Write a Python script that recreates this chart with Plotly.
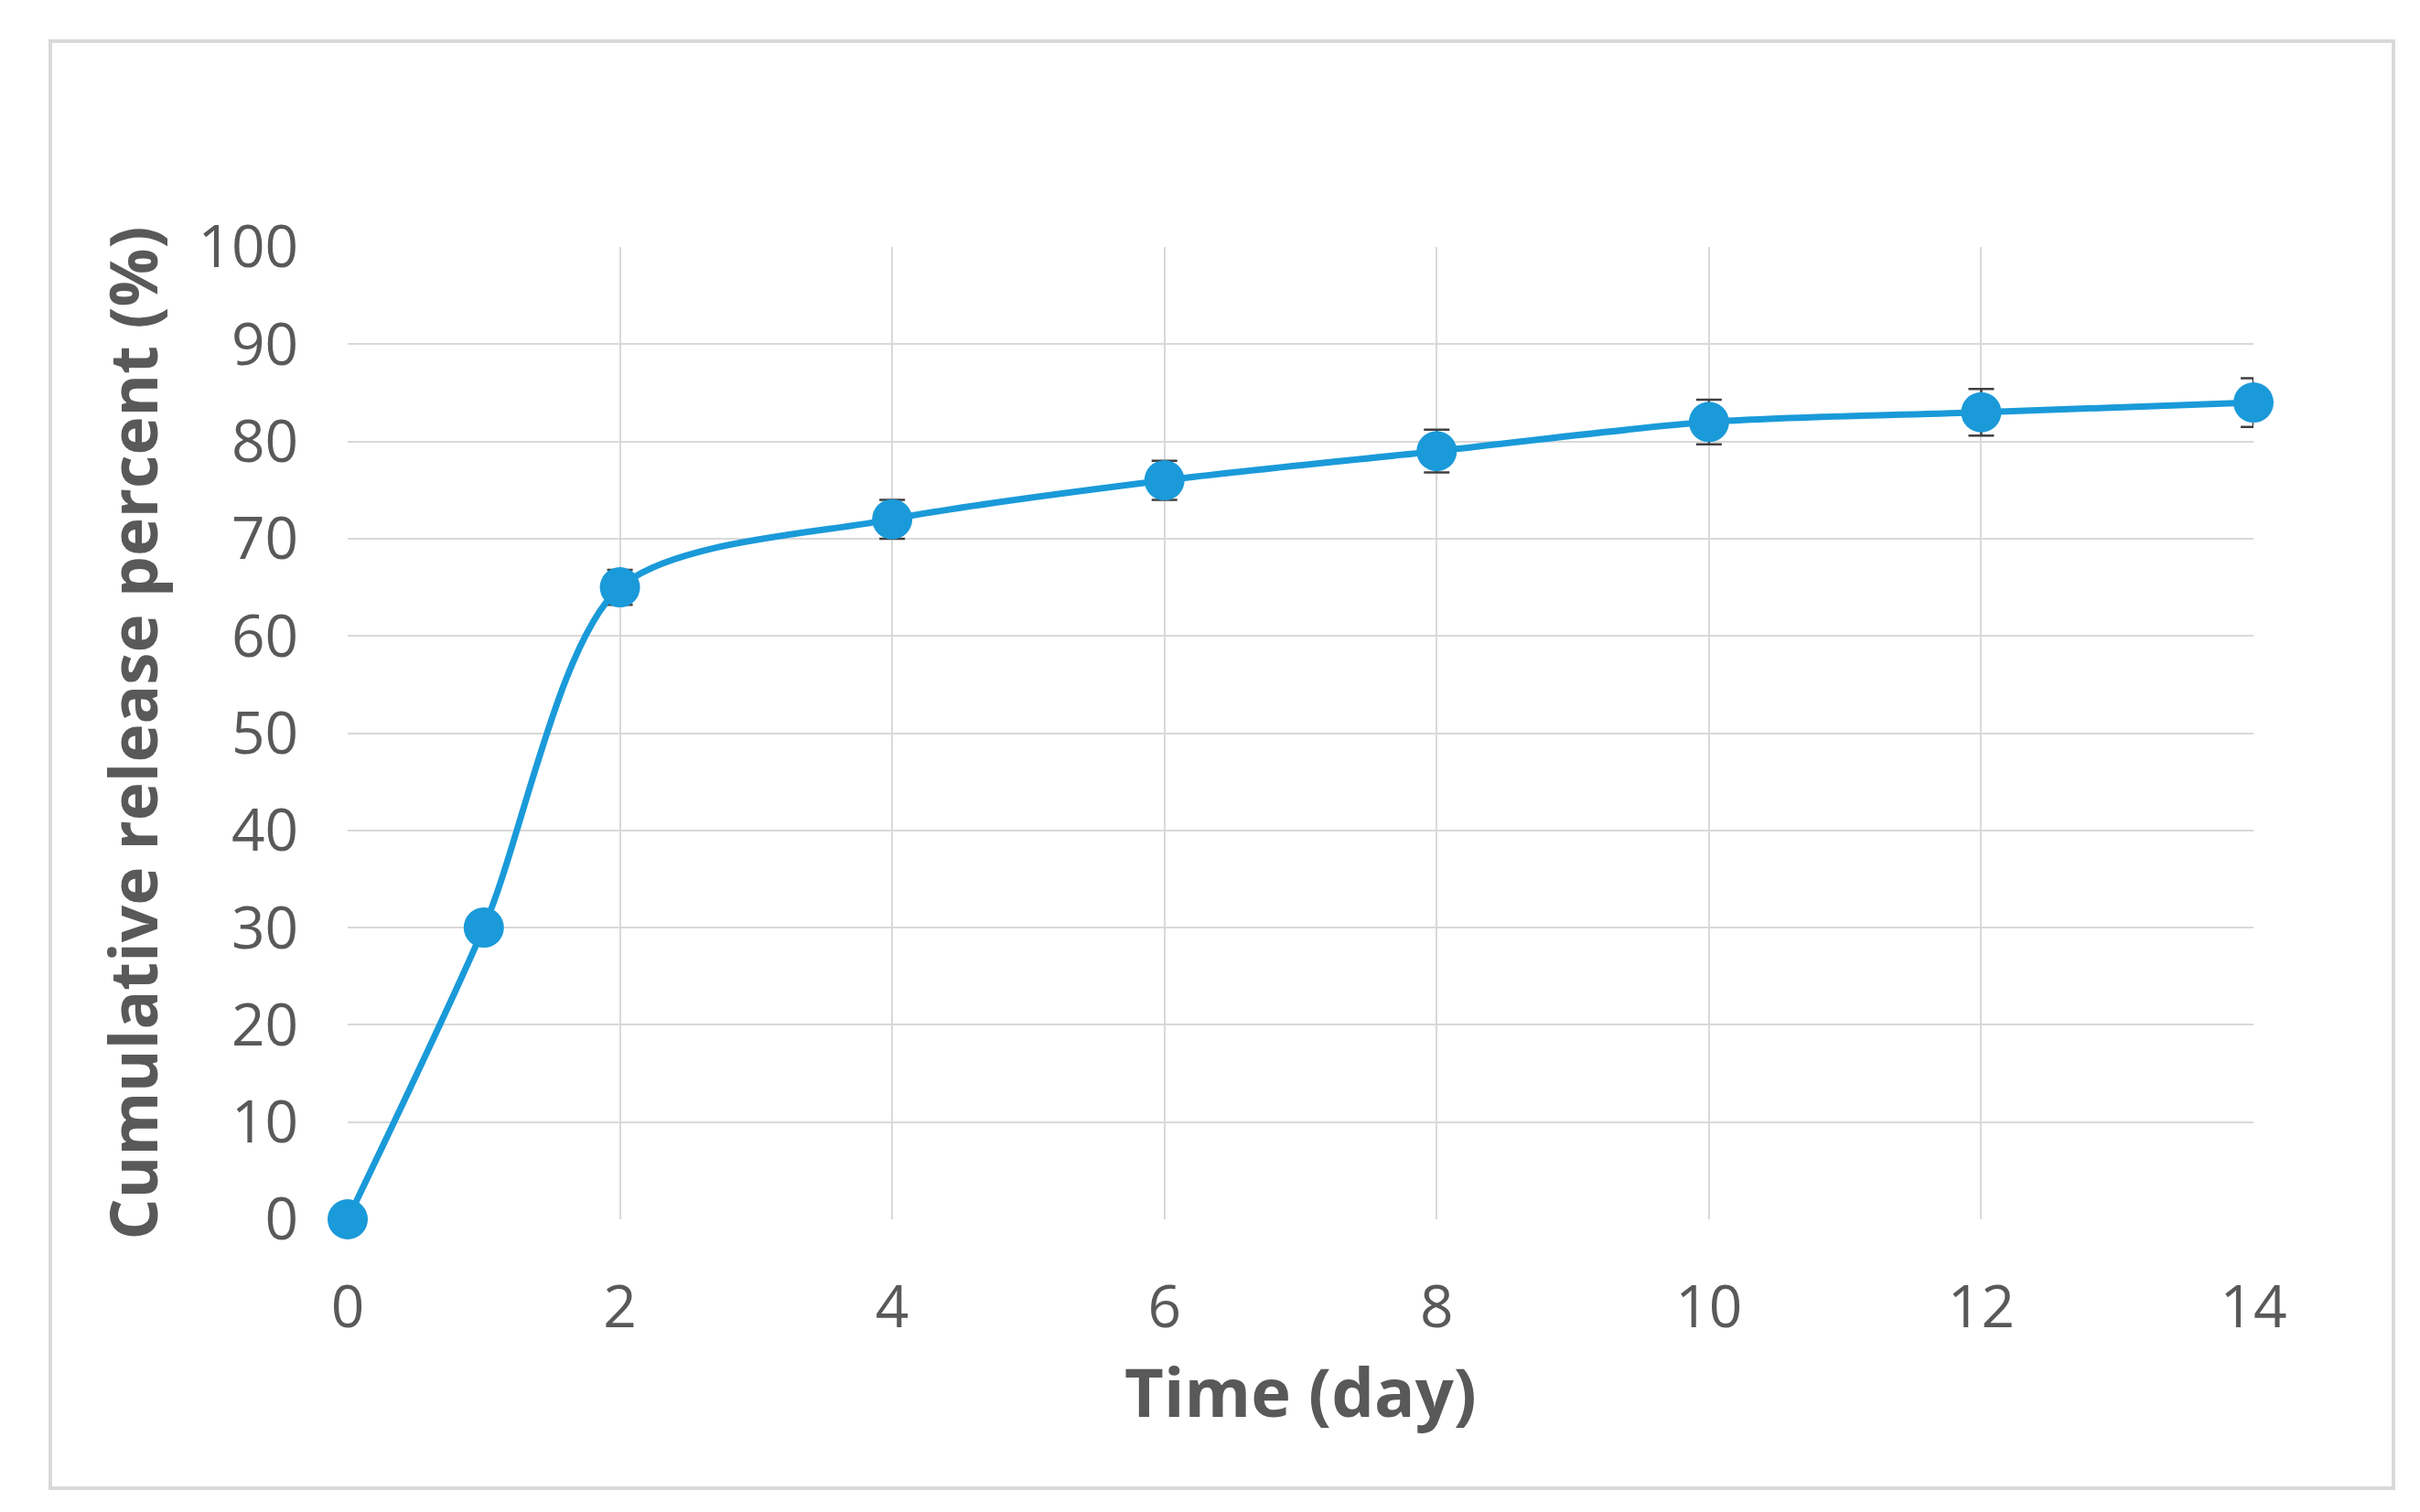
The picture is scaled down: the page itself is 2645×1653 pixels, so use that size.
import plotly.graph_objects as go

days = [0, 1, 2, 4, 6, 8, 10, 12, 14]
release = [0, 30, 65, 72, 76, 79, 82, 83, 84]
err = [0, 0, 1.8, 2, 2, 2.2, 2.3, 2.4, 2.5]

L, R, T, B = 372, 190, 262, 328
W, H = 2645, 1653
pw, ph = W - L - R, H - T - B
bottom = H - B

fig = go.Figure()
fig.add_trace(go.Scatter(
    x=days, y=release, mode="lines+markers",
    line=dict(color="#1a9ad9", width=7, shape="spline", smoothing=0.8),
    marker=dict(color="#1a9ad9", size=44),
    error_y=dict(type="data", array=err, color="#404040", thickness=2.5, width=14),
    cliponaxis=False,
))
gray = "#595959"
fig.update_layout(
    width=W, height=H, paper_bgcolor="white", plot_bgcolor="white",
    margin=dict(l=L, r=R, t=T, b=B),
    showlegend=False,
    font=dict(family="Open Sans, Liberation Sans", color=gray, size=64),
    shapes=[dict(type="rect", xref="paper", yref="paper",
                 x0=(47 - L) / pw, x1=(2608 - L) / pw,
                 y0=(bottom - 1619) / ph, y1=(bottom - 37) / ph,
                 line=dict(color="#d9d9d9", width=4))],
)
fig.update_xaxes(range=[0, 14], tickvals=[0, 2, 4, 6, 8, 10, 12, 14],
                 showgrid=True, gridcolor="#d9d9d9", gridwidth=2, zeroline=False,
                 showline=False, ticks="outside", ticklen=40, tickcolor="rgba(0,0,0,0)",
                 title=dict(text="<b>Time (day)</b>", font=dict(size=74, color=gray), standoff=25))
fig.update_yaxes(range=[0, 100], dtick=10,
                 showgrid=True, gridcolor="#d9d9d9", gridwidth=2, zeroline=False,
                 showline=False, ticks="outside", ticklen=40, tickcolor="rgba(0,0,0,0)",
                 title=dict(text="<b>Cumulative release percent (%)</b>", font=dict(size=71, color=gray), standoff=20))
fig.write_html("out.html")
